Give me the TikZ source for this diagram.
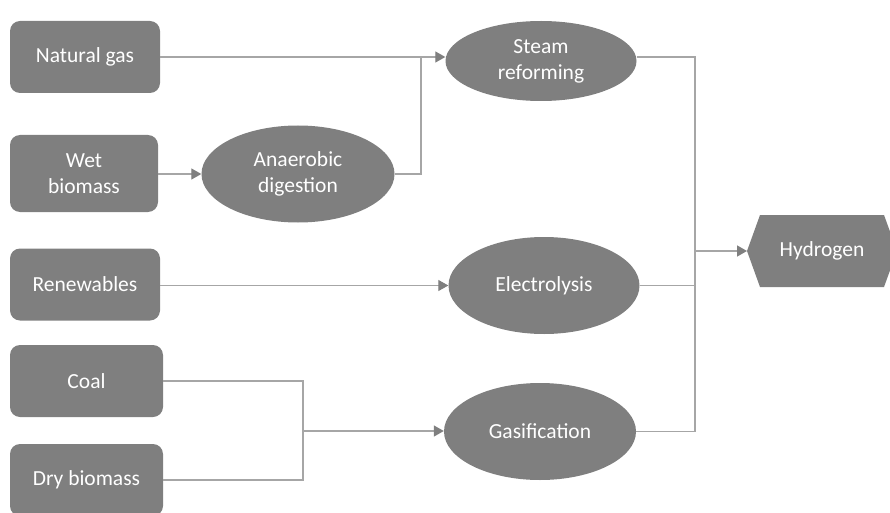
\documentclass[tikz,border=0pt]{standalone}
\usepackage{fontspec}
\setmainfont{Carlito}
\usetikzlibrary{shapes.geometric,arrows.meta}
\definecolor{boxfill}{HTML}{7F7F7F}
\definecolor{linecol}{HTML}{A6A6A6}
\begin{document}
\begin{tikzpicture}[x=1pt,y=-1pt,
  srcbox/.style={rectangle,rounded corners=10pt,fill=boxfill,draw=none,text=white,
    font=\fontsize{21.5}{26}\selectfont,align=center,inner sep=0pt},
  procell/.style={ellipse,fill=boxfill,draw=none,text=white,
    font=\fontsize{21.5}{26}\selectfont,align=center,inner sep=0pt},
  conn/.style={draw=linecol,line width=1.3pt},
  arr/.style={conn,-{Triangle[length=10pt,width=11pt,fill=boxfill,color=boxfill]}}]
\useasboundingbox (0,0) rectangle (890,513);
% sources
\node[srcbox,minimum width=150pt,minimum height=72pt] (ng) at (85,57) {Natural gas};
\node[srcbox,minimum width=148pt,minimum height=77pt] (wb) at (84,173.5) {Wet\\biomass};
\node[srcbox,minimum width=150pt,minimum height=72pt] (rn) at (85,284.5) {Renewables};
\node[srcbox,minimum width=153pt,minimum height=72pt] (coal) at (86.5,381) {Coal};
\node[srcbox,minimum width=153pt,minimum height=72pt] (dry) at (86.5,480) {Dry biomass};
% processes
\node[procell,minimum width=193pt,minimum height=97pt] (ad) at (298,174) {Anaerobic\\digestion};
\node[procell,minimum width=191pt,minimum height=80pt] (sr) at (541,61) {Steam\\reforming};
\node[procell,minimum width=191pt,minimum height=97pt] (el) at (544,285.5) {Electrolysis};
\node[procell,minimum width=192pt,minimum height=97pt] (ga) at (540,431.5) {Gasification};
% hydrogen hexagon
\fill[boxfill] (747,251) -- (760,215) -- (884,215) -- (897,251) -- (884,287) -- (760,287) -- cycle;
\node[text=white,font=\fontsize{21.5}{26}\selectfont,inner sep=0pt] (h2) at (822,251) {Hydrogen};
\coordinate (h2w) at (747,251);
% junctions
\coordinate (j1) at (421,57);
\coordinate (j2) at (303,431);
\coordinate (j3) at (695,251);
% connectors
\draw[arr] (ng.east |- j1) -- (j1 -| sr.west);
\draw[conn] (ad.east) -| (j1);
\draw[arr] (wb.east |- ad.west) -- (ad.west);
\draw[arr] (rn.east |- el.west) -- (el.west);
\draw[conn] (coal.east) -| (j2);
\draw[conn] (dry.east) -| (j2);
\draw[arr] (j2) -- (j2 -| ga.west);
\draw[conn] (sr.east |- j1) -| (j3);
\draw[conn] (el.east) -| (j3);
\draw[conn] (ga.east) -| (j3);
\draw[arr] (j3) -- (h2w);
\end{tikzpicture}
\end{document}
